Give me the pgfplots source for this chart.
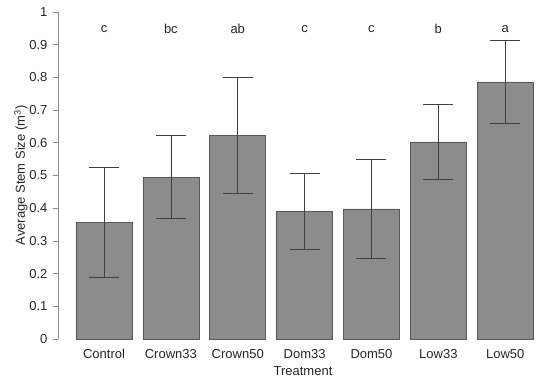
\documentclass[border=0pt]{standalone}
\usepackage{fontspec}
\setmainfont{Liberation Sans}
\usepackage{pgfplots}
\pgfplotsset{compat=1.18}
\begin{document}
\begin{tikzpicture}
\begin{axis}[
  scale only axis, width=490bp, height=327bp,
  xmin=-0.688, xmax=6.64, ymin=0, ymax=1,
  axis x line*=bottom, axis y line*=left,
  x axis line style={draw=none},
  y axis line style={draw=black!45, line width=0.6pt},
  xtick={0,...,6}, xtick style={draw=none},
  xticklabels={Control,Crown33,Crown50,Dom33,Dom50,Low33,Low50},
  ytick={0,0.1,...,1},
  yticklabels={0,0.1,0.2,0.3,0.4,0.5,0.6,0.7,0.8,0.9,1},
  tick align=outside, major tick length=5bp,
  ytick style={draw=black!45, line width=0.6pt},
  every tick label/.append style={font=\fontsize{13bp}{15bp}\selectfont, text=black!85},
  label style={font=\fontsize{13bp}{15bp}\selectfont, text=black!85},
  xlabel={Treatment}, ylabel={Average Stem Size (m\textsuperscript{3})},
  xticklabel style={yshift=-2bp},
  yticklabel style={xshift=-2bp},
  ylabel style={yshift=-5bp},
  xlabel style={yshift=-1bp},
  clip=false,
]
\addplot[ybar, bar width=56bp, fill=black!45, draw=black!65, line width=0.5pt,
  error bars/.cd, y dir=both, y explicit,
  error bar style={draw=black!75, line width=0.7pt},
  error mark options={rotate=90, mark size=15bp, draw=black!75, line width=0.7pt}]
  coordinates {
  (0,0.357) +- (0,0.168)
  (1,0.495) +- (0,0.127)
  (2,0.622) +- (0,0.177)
  (3,0.391) +- (0,0.117)
  (4,0.398) +- (0,0.151)
  (5,0.603) +- (0,0.116)
  (6,0.786) +- (0,0.126)
  };
\addplot[draw=none, mark=none, nodes near coords, point meta=explicit symbolic,
  every node near coord/.append style={anchor=center, font=\fontsize{13bp}{15bp}\selectfont, text=black!85}]
  table[meta=lab] {
  x y lab
  0 0.948 c
  1 0.948 bc
  2 0.948 ab
  3 0.948 c
  4 0.948 c
  5 0.948 b
  6 0.948 a
  };
\end{axis}
\pgfresetboundingbox
\useasboundingbox (-58bp,-51bp) rectangle (492bp,339bp);
\end{tikzpicture}
\end{document}
